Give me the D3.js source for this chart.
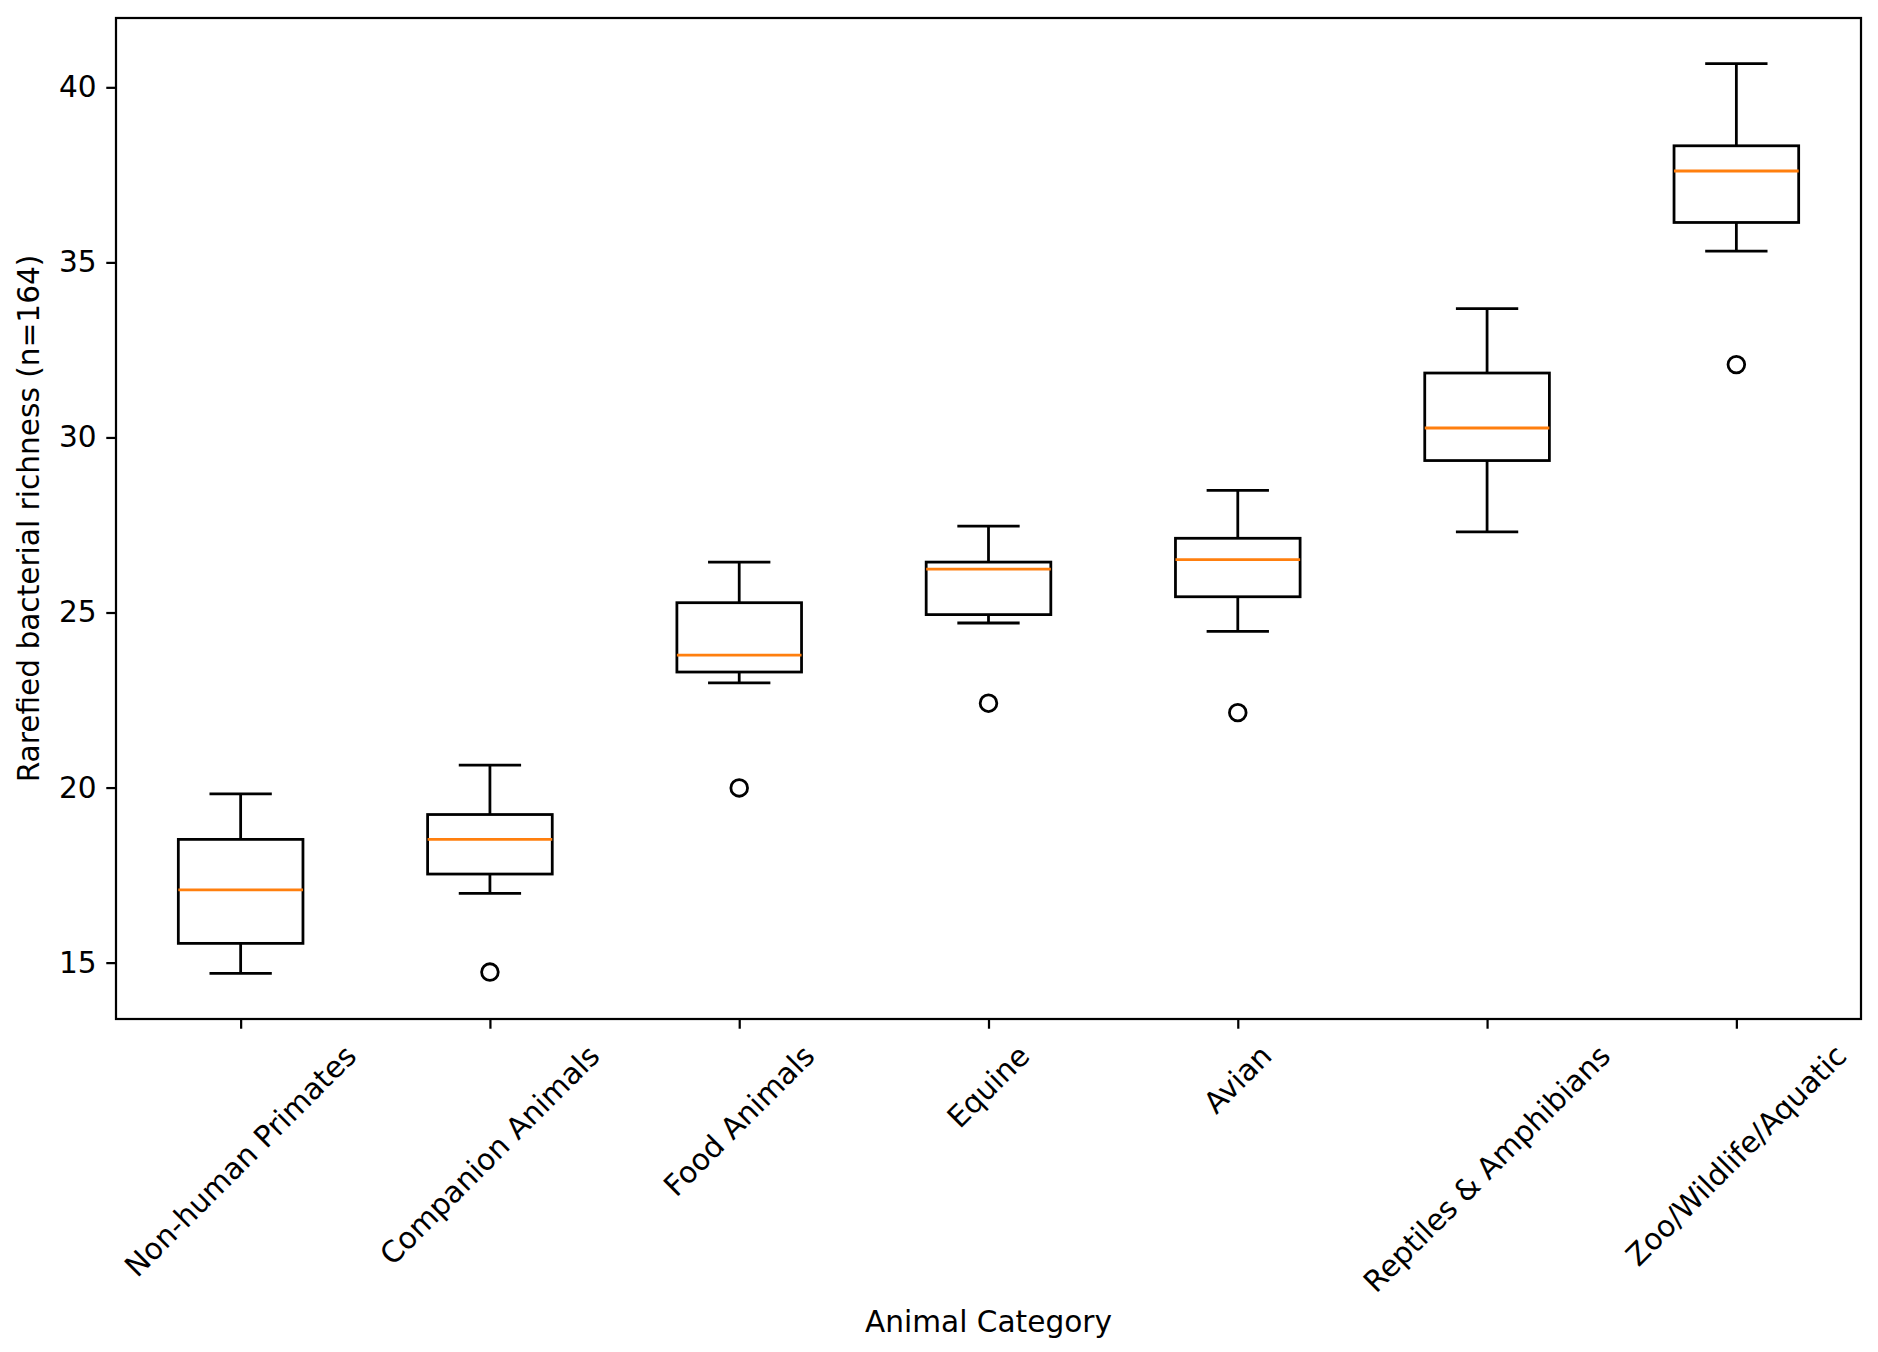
<!DOCTYPE html>
<html>
<head>
<meta charset="utf-8">
<script src="https://cdn.jsdelivr.net/npm/d3@7"></script>
<style>
  body { margin: 0; background: #fff; }
  text { font-family: "DejaVu Sans", sans-serif; }
</style>
</head>
<body>
<svg id="chart" width="1878" height="1352"></svg>
<script>
// values
const categories = ["Non-human Primates", "Companion Animals", "Food Animals", "Equine",
                    "Avian", "Reptiles & Amphibians", "Zoo/Wildlife/Aquatic"];
const whiskerLow = [14.69, 16.98, 22.99, 24.70, 24.46, 27.30, 35.32];
const q1 =         [15.55, 17.53, 23.30, 24.94, 25.45, 29.34, 36.14];
const medians =    [17.08, 18.52, 23.78, 26.24, 26.51, 30.27, 37.61];
const q3 =         [18.52, 19.23, 25.28, 26.44, 27.12, 31.84, 38.33];
const whiskerHigh =[19.82, 20.64, 26.44, 27.47, 28.49, 33.68, 40.68];
const outliers =   [[], [14.73], [19.99], [22.41], [22.14], [], [32.08]];
const yTicks = [15, 20, 25, 30, 35, 40];

const pt = 200 / 72;           // figure was rendered at 200 dpi
const fontSize = 29.6;
const margin = {left: 116, top: 18, right: 1878 - 1861, bottom: 1352 - 1019};
const W = 1878, H = 1352;
const iw = W - margin.left - margin.right;
const ih = H - margin.top - margin.bottom;

const svg = d3.select("#chart");
const g = svg.append("g").attr("transform", `translate(${margin.left},${margin.top})`);

const x = d3.scaleLinear().domain([0.5, categories.length + 0.5]).range([0, iw]);
const y = d3.scaleLinear().domain([13.39, 41.98]).range([ih, 0]);

const data = categories.map((c, i) => ({
  cat: c, pos: i + 1,
  lo: whiskerLow[i], q1: q1[i], med: medians[i], q3: q3[i], hi: whiskerHigh[i],
  out: outliers[i]
}));

const lw = 1 * pt;
const boxHalf = (x(1.25) - x(1));
const capHalf = boxHalf / 2;

const boxes = g.selectAll("g.box").data(data).enter().append("g").attr("class", "box");

// whiskers
boxes.append("line")
  .attr("x1", d => x(d.pos)).attr("x2", d => x(d.pos))
  .attr("y1", d => y(d.q1)).attr("y2", d => y(d.lo))
  .attr("stroke", "#000").attr("stroke-width", lw);
boxes.append("line")
  .attr("x1", d => x(d.pos)).attr("x2", d => x(d.pos))
  .attr("y1", d => y(d.q3)).attr("y2", d => y(d.hi))
  .attr("stroke", "#000").attr("stroke-width", lw);
// caps
boxes.append("line")
  .attr("x1", d => x(d.pos) - capHalf).attr("x2", d => x(d.pos) + capHalf)
  .attr("y1", d => y(d.lo)).attr("y2", d => y(d.lo))
  .attr("stroke", "#000").attr("stroke-width", lw);
boxes.append("line")
  .attr("x1", d => x(d.pos) - capHalf).attr("x2", d => x(d.pos) + capHalf)
  .attr("y1", d => y(d.hi)).attr("y2", d => y(d.hi))
  .attr("stroke", "#000").attr("stroke-width", lw);
// box
boxes.append("rect")
  .attr("x", d => x(d.pos) - boxHalf)
  .attr("width", boxHalf * 2)
  .attr("y", d => y(d.q3))
  .attr("height", d => y(d.q1) - y(d.q3))
  .attr("fill", "none").attr("stroke", "#000").attr("stroke-width", lw);
// median
boxes.append("line")
  .attr("x1", d => x(d.pos) - boxHalf).attr("x2", d => x(d.pos) + boxHalf)
  .attr("y1", d => y(d.med)).attr("y2", d => y(d.med))
  .attr("stroke", "#ff7f0e").attr("stroke-width", lw);
// fliers
boxes.selectAll("circle").data(d => d.out.map(v => ({pos: d.pos, v}))).enter()
  .append("circle")
  .attr("cx", d => x(d.pos)).attr("cy", d => y(d.v))
  .attr("r", 3 * pt)
  .attr("fill", "none").attr("stroke", "#000").attr("stroke-width", lw);

// axes
const tickLen = 3.5 * pt, tickPad = 3.5 * pt, spineW = 0.8 * pt;

const yAxis = g.append("g")
  .call(d3.axisLeft(y).tickValues(yTicks).tickSize(tickLen).tickPadding(tickPad));
yAxis.select(".domain").remove();
yAxis.selectAll(".tick line").attr("stroke-width", spineW);
yAxis.selectAll(".tick text").attr("font-size", fontSize).attr("fill", "#000")
  .attr("font-family", "DejaVu Sans");

const xAxis = g.append("g").attr("transform", `translate(0,${ih})`)
  .call(d3.axisBottom(x).tickValues(data.map(d => d.pos)).tickSize(tickLen).tickFormat(""));
xAxis.select(".domain").remove();
xAxis.selectAll(".tick line").attr("stroke-width", spineW);

// rotated category labels, centred on the tick like matplotlib's ha='center'
const labelTop = ih + tickLen + tickPad;
const c45 = Math.SQRT1_2;
const lineH = fontSize * 1.17;
g.selectAll("text.xlab").data(data).enter().append("text")
  .attr("class", "xlab")
  .attr("font-size", fontSize)
  .attr("text-anchor", "middle")
  .attr("dominant-baseline", "central")
  .text(d => d.cat)
  .each(function(d) {
    const w = this.getComputedTextLength();
    const bh = (w + lineH) * c45;
    const cx = x(d.pos), cy = labelTop + bh / 2;
    d3.select(this).attr("x", cx).attr("y", cy)
      .attr("transform", `rotate(-45,${cx},${cy})`);
  });

// frame
g.append("rect").attr("width", iw).attr("height", ih)
  .attr("fill", "none").attr("stroke", "#000").attr("stroke-width", spineW);

// axis titles
svg.append("text")
  .attr("x", margin.left + iw / 2).attr("y", 1322)
  .attr("text-anchor", "middle").attr("dominant-baseline", "central")
  .attr("font-size", fontSize)
  .text("Animal Category");
svg.append("text")
  .attr("transform", `translate(29,${margin.top + ih / 2}) rotate(-90)`)
  .attr("text-anchor", "middle").attr("dominant-baseline", "central")
  .attr("font-size", fontSize)
  .text("Rarefied bacterial richness (n=164)");
</script>
</body>
</html>
